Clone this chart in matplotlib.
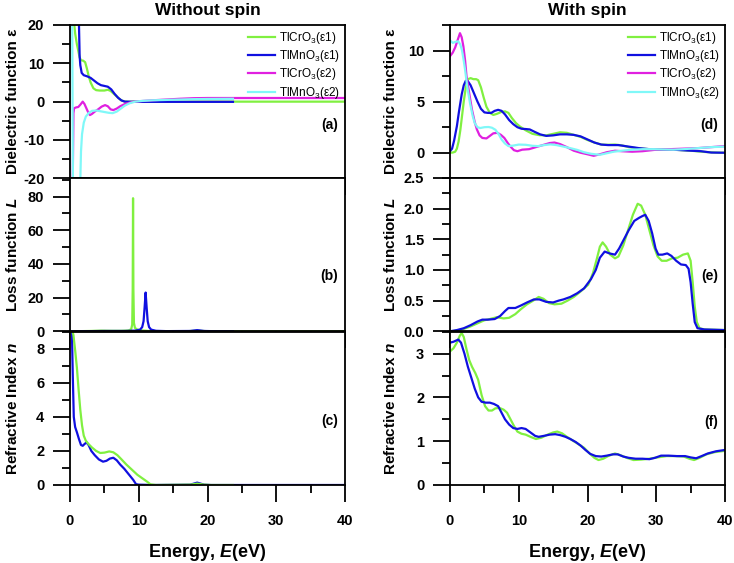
"""
Optical properties of TlCrO3 and TlMnO3, computed without and with spin.

Six stacked panels: dielectric function, energy-loss function and refractive
index against photon energy. Values were read off the published figure.
"""

import matplotlib
matplotlib.use("Agg")
import matplotlib.pyplot as plt
from matplotlib.ticker import MultipleLocator

OUT_PATH = "out.png"

CR_GREEN = "#80F040"
MN_BLUE = "#1010E0"
CR_MAGENTA = "#E020E0"
MN_CYAN = "#80F8F8"

# --- Data: without spin ---------------------------------------------------

# (a) dielectric function
ns_eps1_cr_e = [0.45, 0.6, 0.75, 1.0, 1.2, 1.4, 1.6, 1.9, 2.2, 2.45, 2.7, 3.0, 3.4, 3.8, 4.3,
                5.0, 5.5, 5.9, 6.4, 6.9, 7.4, 7.9, 8.5, 10, 15, 20, 25, 30, 35, 40]
ns_eps1_cr = [30, 20.5, 17.8, 15.0, 13.3, 11.5, 10.8, 10.7, 10.3, 8.7, 6.8, 5.0, 3.5, 3.0, 2.9,
              2.9, 3.1, 2.8, 2.0, 1.2, 0.4, 0.05, 0.0, 0.0, 0.0, 0.0, 0.0, 0.0, 0.0, 0.0]

ns_eps1_mn_e = [1.25, 1.3, 1.4, 1.5, 1.7, 2.0, 2.5, 3.0, 3.5, 4.0, 4.5, 5.0, 5.5, 6.0, 6.5,
                7.0, 7.5, 8.0, 10, 15, 20, 23.7]
ns_eps1_mn = [30, 20.5, 12.0, 9.5, 7.5, 6.9, 6.6, 6.2, 5.5, 4.8, 4.3, 4.1, 3.9, 3.2, 2.0,
              1.0, 0.3, 0.0, -0.05, -0.05, -0.05, -0.05]

ns_eps2_cr_e = [0.25, 0.4, 0.5, 0.6, 0.9, 1.2, 1.5, 1.85, 2.1, 2.4, 2.7, 2.9, 3.2, 3.6, 4.1,
                4.6, 5.1, 5.5, 5.9, 6.3, 6.8, 7.3, 8.0, 9.0, 10, 12, 14, 16, 18, 20,
                25, 30, 35, 40]
ns_eps2_cr = [-30, -20.5, -3.0, -1.7, -1.5, -1.4, -0.8, 0.0, -0.6, -1.8, -3.0, -3.5, -3.2, -2.6, -2.0,
              -1.3, -0.9, -1.2, -2.0, -2.2, -1.8, -1.2, -0.6, -0.1, 0.1, 0.35, 0.55, 0.75, 0.9, 0.95,
              0.95, 0.95, 0.95, 0.95]

ns_eps2_mn_e = [0.3, 0.45, 1.4, 1.5, 1.6, 1.75, 2.0, 2.3, 2.7, 3.2, 3.8, 4.4, 5.0, 5.6, 6.2,
                6.8, 7.4, 8.0, 8.7, 9.5, 10.5, 12, 14, 16, 18, 20, 23.7]
ns_eps2_mn = [30, -30, -30, -20.5, -13.0, -8.5, -5.5, -3.9, -3.0, -2.4, -2.3, -2.5, -2.7, -2.9, -3.0,
              -2.6, -1.8, -1.0, -0.4, 0.0, 0.2, 0.35, 0.45, 0.55, 0.65, 0.7, 0.75]

# (b) loss function
ns_loss_cr_e = [0, 1, 3, 4.5, 6, 7.5, 8.5, 8.9, 9.05, 9.12, 9.17, 9.22, 9.3, 9.45, 9.8,
                10.5, 11.5, 13, 17, 18.5, 20, 25, 30, 35, 40]
ns_loss_cr = [0, 0.05, 0.2, 0.4, 0.3, 0.3, 0.5, 1.2, 4.0, 25, 79, 25, 5.0, 2.0, 1.0,
              0.5, 0.2, 0.05, 0.05, 0.4, 0.05, 0, 0, 0, 0]

ns_loss_mn_e = [0, 2, 5, 8, 9.5, 10.2, 10.5, 10.7, 10.85, 11.0, 11.15, 11.3, 11.5, 11.8, 12.5,
                14, 17.5, 18.5, 19.5, 21, 23.7]
ns_loss_mn = [0, 0.05, 0.2, 0.2, 0.4, 1.0, 2.5, 6.0, 14, 23, 14, 6.0, 2.5, 1.0, 0.3,
              0.1, 0.2, 0.7, 0.2, 0.05, 0.0]

# (c) refractive index
ns_n_mn_e = [0.25, 0.4, 0.55, 0.75, 1.0, 1.3, 1.6, 1.85, 2.1, 2.4, 2.7, 3.1, 3.6, 4.2, 4.8,
             5.3, 5.8, 6.3, 6.8, 7.3, 7.9, 8.6, 9.2, 9.6, 10, 12, 17.5, 18.5, 19.5, 20.5,
             25, 30, 35, 40]
ns_n_mn = [9.5, 6.5, 4.0, 3.4, 3.1, 2.7, 2.35, 2.3, 2.4, 2.5, 2.35, 2.0, 1.75, 1.5, 1.37,
           1.42, 1.55, 1.6, 1.45, 1.2, 0.95, 0.6, 0.3, 0.05, 0.02, 0.0, 0.02, 0.14, 0.02, 0.0,
           0, 0, 0, 0]

ns_n_cr_e = [0.25, 0.5, 0.75, 1.0, 1.25, 1.5, 1.75, 2.0, 2.3, 2.7, 3.2, 3.8, 4.4, 5.0, 5.7,
             6.3, 6.9, 7.5, 8.2, 9.0, 9.8, 10.5, 11.2, 11.7, 12.5, 17.5, 18.5, 19.5, 20.5, 23.7]
ns_n_cr = [9.2, 8.8, 7.9, 6.9, 5.6, 4.4, 3.5, 2.9, 2.6, 2.4, 2.2, 2.0, 1.88, 1.9, 1.97,
           1.92, 1.75, 1.5, 1.2, 0.9, 0.6, 0.4, 0.2, 0.04, 0.0, 0.02, 0.08, 0.02, 0, 0]

# --- Data: with spin --------------------------------------------------------

# (d) dielectric function
s_eps1_cr_e = [0, 0.4, 0.75, 1.0, 1.25, 1.5, 1.75, 2.0, 2.3, 2.6, 3.0, 3.4, 3.8, 4.1, 4.5,
               4.9, 5.3, 5.8, 6.3, 6.8, 7.5, 8.0, 8.5, 9.0, 9.6, 10.2, 11, 12, 13, 14,
               15, 16, 17, 18, 19, 20, 21, 22, 23, 24, 25, 26, 27.5, 29, 31,
               33, 35, 37, 38.5, 40]
s_eps1_cr = [0.0, 0.02, 0.1, 0.4, 1.1, 2.2, 3.6, 5.0, 6.4, 7.2, 7.3, 7.2, 7.2, 7.1, 6.4,
             5.4, 4.5, 3.9, 3.7, 3.8, 4.0, 4.05, 3.9, 3.4, 2.9, 2.55, 2.2, 1.85, 1.72, 1.7,
             1.85, 2.0, 1.95, 1.75, 1.55, 1.25, 1.0, 0.8, 0.78, 0.8, 0.72, 0.55, 0.42, 0.35, 0.3,
             0.28, 0.2, 0.08, 0.02, 0.0]

s_eps1_mn_e = [0, 0.3, 0.6, 1.0, 1.3, 1.7, 2.0, 2.3, 2.6, 3.0, 3.5, 4.0, 4.5, 5.0, 5.5,
               6.0, 6.5, 7.0, 7.5, 8.0, 8.6, 9.2, 9.8, 10.4, 11.0, 11.6, 12.3, 13.1, 14, 15,
               16, 17, 18, 19, 20, 21, 22, 23, 24.5, 26, 27.5, 29, 30.5, 32.5, 34.5,
               36.5, 38, 40]
s_eps1_mn = [0.15, 0.4, 1.2, 2.6, 4.0, 5.7, 6.6, 7.05, 7.0, 6.6, 5.8, 5.0, 4.3, 3.95, 3.9,
             3.9, 4.1, 4.2, 4.1, 3.75, 3.2, 2.8, 2.5, 2.35, 2.32, 2.28, 2.05, 1.8, 1.65, 1.7,
             1.8, 1.8, 1.75, 1.6, 1.3, 1.0, 0.8, 0.75, 0.75, 0.6, 0.45, 0.35, 0.3, 0.3, 0.22,
             0.15, 0.02, 0.0]

s_eps2_cr_e = [0, 0.4, 0.75, 1.1, 1.45, 1.7, 1.95, 2.2, 2.4, 2.8, 3.2, 3.6, 3.9, 4.3, 4.7,
               5.3, 5.8, 6.3, 6.9, 7.4, 7.9, 8.4, 8.8, 9.3, 9.8, 10.5, 11.5, 12.5, 13.5, 14.5,
               15.2, 16, 17, 18, 19, 20, 20.9, 21.8, 22.8, 24, 25, 26.5, 28, 30, 32,
               34, 36, 38, 40]
s_eps2_cr = [9.45, 9.8, 10.3, 11.0, 11.7, 11.3, 10.4, 9.0, 7.5, 5.8, 4.2, 3.0, 2.3, 1.7, 1.45,
             1.4, 1.65, 1.9, 1.95, 1.75, 1.45, 0.95, 0.6, 0.25, 0.15, 0.3, 0.35, 0.55, 0.75, 0.95,
             1.0, 0.85, 0.55, 0.2, 0.0, -0.15, -0.3, -0.15, 0.05, 0.2, 0.15, 0.1, 0.15, 0.3, 0.35,
             0.4, 0.45, 0.55, 0.65]

s_eps2_mn_e = [0, 0.4, 0.8, 1.2, 1.5, 1.75, 2.0, 2.2, 2.5, 2.9, 3.3, 3.6, 4.0, 4.4, 5.0,
               5.6, 6.1, 6.6, 7.1, 7.5, 8.0, 8.5, 9.2, 10, 11, 12, 12.8, 13.7, 14.6, 15.5,
               16.5, 17.5, 18.5, 19.5, 20.5, 21.8, 22.8, 23.8, 25, 26.5, 28, 29.6, 31, 32.5, 34,
               36, 38, 40]
s_eps2_mn = [11.0, 10.75, 10.85, 10.9, 10.6, 10.0, 9.0, 8.1, 6.5, 4.9, 3.6, 2.9, 2.5, 2.42, 2.5,
             2.52, 2.45, 2.25, 1.8, 1.3, 0.9, 0.65, 0.7, 0.8, 0.78, 0.68, 0.65, 0.75, 0.82, 0.75,
             0.6, 0.45, 0.28, 0.05, -0.1, -0.2, -0.05, 0.1, 0.2, 0.3, 0.35, 0.35, 0.32, 0.3, 0.35,
             0.45, 0.55, 0.6]

# (e) loss function
s_loss_cr_e = [0, 1, 2, 3, 4, 5, 5.8, 6.8, 7.8, 8.6, 9.5, 10.3, 11.2, 12.1, 12.9,
               13.6, 14.4, 15.2, 16.2, 17.1, 18, 19, 20.1, 20.8, 21.4, 21.8, 22.2, 22.7, 23.3, 24,
               24.5, 25.2, 25.9, 26.6, 27.3, 27.8, 28.4, 29, 29.6, 30.2, 30.8, 31.5, 32.3, 33.1, 33.9,
               34.6, 35.0, 35.3, 35.6, 35.9, 36.3, 37, 40]
s_loss_cr = [0.0, 0.01, 0.04, 0.08, 0.13, 0.18, 0.2, 0.23, 0.21, 0.22, 0.28, 0.36, 0.44, 0.5, 0.56,
             0.53, 0.46, 0.44, 0.45, 0.5, 0.56, 0.65, 0.76, 0.95, 1.2, 1.38, 1.45, 1.38, 1.25, 1.19,
             1.22, 1.4, 1.65, 1.9, 2.08, 2.05, 1.9, 1.65, 1.4, 1.22, 1.15, 1.15, 1.19, 1.2, 1.25,
             1.27, 1.15, 0.8, 0.4, 0.15, 0.05, 0.03, 0.02]

s_loss_mn_e = [0, 1, 2, 3, 4, 4.7, 5.5, 6.5, 7.3, 8.0, 8.5, 9.5, 10.3, 11.2, 12.2,
               13, 14, 15, 15.8, 16.5, 17.5, 18.5, 19.5, 20.5, 21.2, 21.8, 22.5, 23.2, 24, 24.6,
               25.3, 26, 26.8, 27.5, 28, 28.4, 28.9, 29.4, 29.9, 30.3, 30.9, 31.6, 32.2, 32.9, 33.6,
               34.3, 34.7, 35.0, 35.3, 35.6, 36, 37, 40]
s_loss_mn = [0.0, 0.02, 0.05, 0.1, 0.16, 0.19, 0.19, 0.2, 0.25, 0.33, 0.38, 0.38, 0.42, 0.47, 0.52,
             0.52, 0.48, 0.47, 0.5, 0.52, 0.56, 0.62, 0.7, 0.85, 1.0, 1.2, 1.3, 1.27, 1.25, 1.35,
             1.5, 1.65, 1.8, 1.85, 1.88, 1.9, 1.8, 1.6, 1.35, 1.25, 1.25, 1.27, 1.23, 1.15, 1.09,
             1.08, 1.02, 0.8, 0.45, 0.15, 0.05, 0.03, 0.02]

# (f) refractive index
s_n_cr_e = [0, 0.5, 1.0, 1.4, 1.7, 2.0, 2.4, 2.8, 3.2, 3.7, 4.1, 4.6, 5.1, 5.6, 6.1,
            6.6, 7.2, 7.8, 8.3, 8.8, 9.3, 9.8, 10.4, 11, 11.7, 12.5, 13.3, 14.2, 15, 15.6,
            16.3, 17, 17.8, 18.7, 19.5, 20.3, 21, 21.6, 22.3, 23, 24, 24.8, 25.7, 26.7, 27.8,
            29, 30.2, 31.5, 32.8, 34, 34.8, 35.5, 36.3, 37.3, 38.5, 40]
s_n_cr = [3.05, 3.12, 3.25, 3.4, 3.47, 3.38, 3.1, 2.85, 2.7, 2.55, 2.4, 2.05, 1.8, 1.7, 1.7,
          1.75, 1.76, 1.72, 1.65, 1.5, 1.35, 1.22, 1.17, 1.15, 1.1, 1.05, 1.08, 1.15, 1.2, 1.22,
          1.18, 1.1, 1.02, 0.93, 0.85, 0.72, 0.62, 0.57, 0.6, 0.66, 0.72, 0.68, 0.62, 0.57, 0.58,
          0.6, 0.63, 0.66, 0.66, 0.65, 0.6, 0.57, 0.62, 0.7, 0.75, 0.78]

s_n_mn_e = [0, 0.5, 1.2, 1.6, 2.1, 2.6, 3.1, 3.6, 4.1, 4.6, 5.2, 5.8, 6.4, 7.0, 7.5,
            8.0, 8.6, 9.2, 9.8, 10.4, 11, 11.7, 12.4, 12.9, 13.6, 14.5, 15.3, 16, 16.8, 17.5,
            18.3, 19, 19.7, 20.4, 21.2, 22, 22.8, 23.7, 24.4, 25.2, 26, 27, 28, 29, 29.8,
            30.7, 31.8, 33, 34.2, 35, 35.8, 36.6, 37.5, 38.7, 40]
s_n_mn = [3.25, 3.27, 3.32, 3.25, 3.0, 2.7, 2.45, 2.2, 2.0, 1.9, 1.88, 1.88, 1.85, 1.8, 1.65,
          1.5, 1.38, 1.3, 1.28, 1.3, 1.28, 1.2, 1.12, 1.1, 1.12, 1.15, 1.16, 1.14, 1.1, 1.05,
          0.98, 0.9, 0.8, 0.71, 0.66, 0.65, 0.67, 0.7, 0.7, 0.65, 0.62, 0.6, 0.6, 0.59, 0.62,
          0.67, 0.67, 0.66, 0.66, 0.63, 0.61, 0.66, 0.72, 0.77, 0.8]

LEGEND_LABELS = ["TlCrO$_3$(ε1)", "TlMnO$_3$(ε1)", "TlCrO$_3$(ε2)", "TlMnO$_3$(ε2)"]

# --- Layout (pixel boxes of the original 734x563 figure) ----------------------

FIG_W, FIG_H = 734, 563
COL_LEFT = [70, 450]
COL_WIDTH = 275
ROW_TOP = [25, 178, 331.7]
ROW_HEIGHT = 153.3
LW = 1.6


def px_box(left, top, width, height):
    return [left / FIG_W, 1 - (top + height) / FIG_H, width / FIG_W, height / FIG_H]


def style_axis(ax, ylim, major, minor, bottom_labels):
    ax.set_xlim(0, 40)
    ax.set_ylim(*ylim)
    ax.xaxis.set_major_locator(MultipleLocator(10))
    ax.xaxis.set_minor_locator(MultipleLocator(5))
    ax.yaxis.set_major_locator(MultipleLocator(major))
    ax.yaxis.set_minor_locator(MultipleLocator(minor))
    ax.tick_params(which="both", direction="out", width=1.3, top=False, right=False,
                   labelsize=10.5)
    ax.tick_params(which="major", length=12)
    ax.tick_params(which="minor", length=5.5)
    ax.tick_params(axis="x", pad=9, labelbottom=bottom_labels)
    ax.tick_params(axis="y", pad=6.5)
    for spine in ax.spines.values():
        spine.set_linewidth(1.3)


def panel_tag(ax, tag, y):
    ax.text(0.975, y, tag, transform=ax.transAxes, ha="right", va="center",
            fontsize=10, fontweight="bold")


def main():
    plt.rcParams["font.family"] = ["Liberation Sans", "DejaVu Sans"]
    plt.rcParams["font.weight"] = "bold"
    plt.rcParams["font.size"] = 10
    plt.rcParams["axes.unicode_minus"] = False
    plt.rcParams["mathtext.fontset"] = "custom"
    plt.rcParams["mathtext.default"] = "regular"
    plt.rcParams["mathtext.rm"] = "Liberation Sans"
    plt.rcParams["mathtext.it"] = "Liberation Sans:italic:bold"
    plt.rcParams["mathtext.bf"] = "Liberation Sans:bold"

    fig = plt.figure(figsize=(FIG_W / 100, FIG_H / 100), dpi=100)
    axes = [[fig.add_axes(px_box(COL_LEFT[c], ROW_TOP[r], COL_WIDTH, ROW_HEIGHT))
             for r in range(3)] for c in range(2)]
    (ax_a, ax_b, ax_c), (ax_d, ax_e, ax_f) = axes

    # Without spin
    ax_a.plot(ns_eps1_cr_e, ns_eps1_cr, color=CR_GREEN, lw=LW, label=LEGEND_LABELS[0])
    ax_a.plot(ns_eps1_mn_e, ns_eps1_mn, color=MN_BLUE, lw=LW, label=LEGEND_LABELS[1])
    ax_a.plot(ns_eps2_cr_e, ns_eps2_cr, color=CR_MAGENTA, lw=LW, label=LEGEND_LABELS[2])
    ax_a.plot(ns_eps2_mn_e, ns_eps2_mn, color=MN_CYAN, lw=LW, label=LEGEND_LABELS[3])
    ax_b.plot(ns_loss_cr_e, ns_loss_cr, color=CR_GREEN, lw=LW)
    ax_b.plot(ns_loss_mn_e, ns_loss_mn, color=MN_BLUE, lw=LW)
    ax_c.plot(ns_n_mn_e, ns_n_mn, color=MN_BLUE, lw=LW)
    ax_c.plot(ns_n_cr_e, ns_n_cr, color=CR_GREEN, lw=LW)

    # With spin
    ax_d.plot(s_eps1_cr_e, s_eps1_cr, color=CR_GREEN, lw=LW, label=LEGEND_LABELS[0])
    ax_d.plot(s_eps1_mn_e, s_eps1_mn, color=MN_BLUE, lw=LW, label=LEGEND_LABELS[1])
    ax_d.plot(s_eps2_cr_e, s_eps2_cr, color=CR_MAGENTA, lw=LW, label=LEGEND_LABELS[2])
    ax_d.plot(s_eps2_mn_e, s_eps2_mn, color=MN_CYAN, lw=LW, label=LEGEND_LABELS[3])
    ax_e.plot(s_loss_cr_e, s_loss_cr, color=CR_GREEN, lw=LW)
    ax_e.plot(s_loss_mn_e, s_loss_mn, color=MN_BLUE, lw=LW)
    ax_f.plot(s_n_cr_e, s_n_cr, color=CR_GREEN, lw=LW)
    ax_f.plot(s_n_mn_e, s_n_mn, color=MN_BLUE, lw=LW)

    style_axis(ax_a, (-20, 20), 10, 5, False)
    style_axis(ax_b, (0, 91), 20, 10, False)
    style_axis(ax_c, (0, 9), 2, 1, True)
    style_axis(ax_d, (-2.5, 12.5), 5, 2.5, False)
    style_axis(ax_e, (0, 2.5), 0.5, 0.25, False)
    style_axis(ax_f, (0, 3.5), 1, 0.5, True)
    ax_e.yaxis.set_major_formatter("{x:.1f}")

    ylabels = ["Dielectric function ε", "Loss function $\\mathit{L}$", "Refractive Index $\\mathit{n}$"]
    label_x = [-0.18, -0.19]
    for c in range(2):
        for r in range(3):
            ax = axes[c][r]
            ax.set_ylabel(ylabels[r], fontsize=11, fontweight="bold")
            ax.yaxis.set_label_coords(label_x[c], 0.5)
        axes[c][2].set_xlabel("Energy, $\\mathit{E}$(eV)", fontsize=13, fontweight="bold")
        axes[c][2].xaxis.set_label_coords(0.5, -0.37)

    ax_a.set_title("Without spin", fontsize=12.5, fontweight="bold", pad=7)
    ax_d.set_title("With spin", fontsize=12.5, fontweight="bold", pad=7)

    for ax in (ax_a, ax_d):
        ax.legend(loc="upper right", bbox_to_anchor=(1.0, 1.0), frameon=False,
                  prop={"size": 8.5, "weight": "normal"}, handlelength=2.3,
                  handletextpad=0.35, labelspacing=0.2, borderaxespad=0.2, borderpad=0.2)

    for ax, tag, y in [(ax_a, "(a)", 0.35), (ax_b, "(b)", 0.36), (ax_c, "(c)", 0.42),
                       (ax_d, "(d)", 0.35), (ax_e, "(e)", 0.36), (ax_f, "(f)", 0.41)]:
        panel_tag(ax, tag, y)

    fig.savefig(OUT_PATH, dpi=100)
    plt.close(fig)


if __name__ == "__main__":
    main()
